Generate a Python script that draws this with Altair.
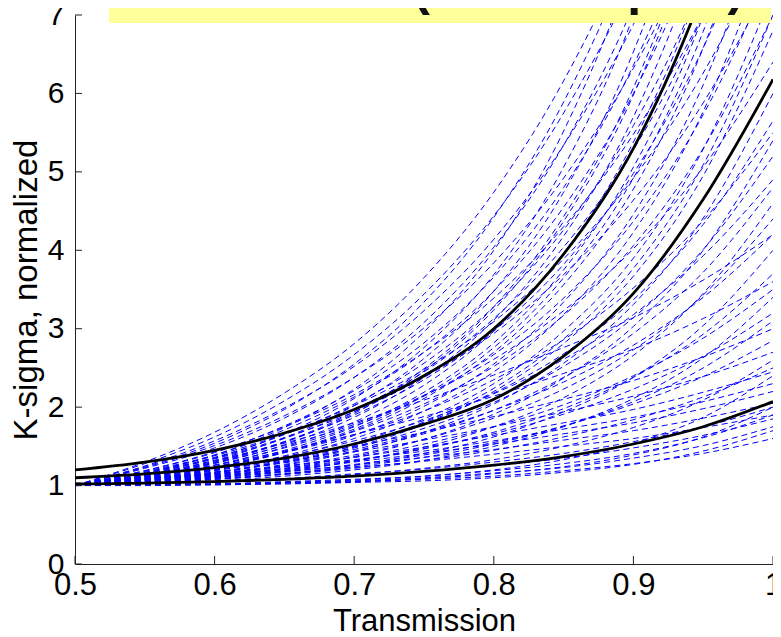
import altair as alt
import pandas as pd

# Transmission grid (x)
x_vals = [0.50, 0.55, 0.60, 0.65, 0.70, 0.75, 0.80, 0.85, 0.90, 0.95, 1.00]

# Individual samples (blue dashed), K-sigma normalized
blue_curves = [
    [1.00, 1.01, 1.02, 1.03, 1.05, 1.08, 1.12, 1.19, 1.28, 1.41, 1.60],
    [1.00, 1.01, 1.02, 1.04, 1.06, 1.10, 1.16, 1.23, 1.35, 1.51, 1.75],
    [1.01, 1.01, 1.02, 1.05, 1.08, 1.12, 1.19, 1.28, 1.41, 1.61, 1.90],
    [1.00, 1.02, 1.05, 1.08, 1.12, 1.18, 1.25, 1.35, 1.48, 1.64, 1.85],
    [1.00, 1.02, 1.05, 1.09, 1.15, 1.21, 1.30, 1.41, 1.56, 1.75, 2.00],
    [1.02, 1.04, 1.09, 1.15, 1.23, 1.31, 1.40, 1.50, 1.60, 1.74, 1.90],
    [1.00, 1.04, 1.11, 1.18, 1.26, 1.36, 1.46, 1.58, 1.70, 1.86, 2.05],
    [1.00, 1.05, 1.12, 1.20, 1.30, 1.41, 1.53, 1.66, 1.80, 1.98, 2.20],
    [1.03, 1.05, 1.13, 1.22, 1.33, 1.44, 1.57, 1.72, 1.87, 2.07, 2.30],
    [1.00, 1.06, 1.15, 1.25, 1.36, 1.49, 1.64, 1.80, 1.97, 2.19, 2.45],
    [1.00, 1.04, 1.08, 1.14, 1.22, 1.32, 1.45, 1.62, 1.84, 2.13, 2.50],
    [1.00, 1.07, 1.17, 1.29, 1.43, 1.58, 1.75, 1.94, 2.14, 2.39, 2.70],
    [1.02, 1.04, 1.10, 1.17, 1.27, 1.39, 1.55, 1.76, 2.04, 2.39, 2.85],
    [1.00, 1.08, 1.20, 1.34, 1.50, 1.68, 1.88, 2.10, 2.34, 2.64, 3.00],
    [1.00, 1.05, 1.12, 1.21, 1.32, 1.47, 1.66, 1.91, 2.23, 2.65, 3.20],
    [1.00, 1.06, 1.14, 1.24, 1.36, 1.53, 1.75, 2.03, 2.40, 2.88, 3.50],
    [1.01, 1.05, 1.11, 1.19, 1.31, 1.47, 1.68, 1.98, 2.38, 2.93, 3.70],
    [1.00, 1.08, 1.17, 1.30, 1.46, 1.68, 1.96, 2.32, 2.79, 3.40, 4.20],
    [1.00, 1.06, 1.14, 1.24, 1.39, 1.59, 1.86, 2.23, 2.73, 3.43, 4.40],
    [1.00, 1.04, 1.10, 1.18, 1.31, 1.49, 1.75, 2.12, 2.66, 3.45, 4.60],
    [1.00, 1.09, 1.21, 1.37, 1.57, 1.83, 2.17, 2.61, 3.18, 3.93, 4.90],
    [1.00, 1.08, 1.17, 1.30, 1.48, 1.73, 2.06, 2.52, 3.14, 4.01, 5.20],
    [1.02, 1.05, 1.12, 1.22, 1.37, 1.59, 1.91, 2.37, 3.03, 4.00, 5.40],
    [1.00, 1.08, 1.19, 1.33, 1.53, 1.80, 2.18, 2.68, 3.37, 4.33, 5.65],
    [1.00, 1.06, 1.14, 1.26, 1.43, 1.68, 2.04, 2.56, 3.31, 4.41, 6.00],
    [1.00, 1.13, 1.29, 1.51, 1.78, 2.15, 2.61, 3.23, 4.02, 5.06, 6.40],
    [1.00, 1.06, 1.16, 1.30, 1.49, 1.78, 2.20, 2.81, 3.67, 4.95, 6.80],
    [1.01, 1.07, 1.17, 1.32, 1.54, 1.85, 2.30, 2.97, 3.90, 5.29, 7.30],
    [1.00, 1.12, 1.26, 1.48, 1.76, 2.14, 2.67, 3.39, 4.37, 5.73, 7.60],
    [1.00, 1.08, 1.19, 1.36, 1.60, 1.95, 2.45, 3.18, 4.23, 5.77, 8.00],
    [1.00, 1.08, 1.20, 1.38, 1.64, 2.01, 2.55, 3.34, 4.46, 6.11, 8.50],
    [1.00, 1.14, 1.31, 1.56, 1.90, 2.35, 2.97, 3.82, 4.98, 6.58, 8.80],
    [1.00, 1.09, 1.22, 1.42, 1.70, 2.11, 2.70, 3.56, 4.78, 6.58, 9.20],
    [1.00, 1.10, 1.24, 1.45, 1.75, 2.19, 2.82, 3.75, 5.06, 6.99, 9.80],
    [1.00, 1.16, 1.36, 1.65, 2.04, 2.56, 3.28, 4.26, 5.59, 7.44, 10.00],
    [1.00, 1.10, 1.26, 1.49, 1.81, 2.28, 2.97, 3.96, 5.38, 7.47, 10.50],
    [1.00, 1.11, 1.28, 1.52, 1.87, 2.38, 3.11, 4.18, 5.70, 7.95, 11.20],
    [1.00, 1.19, 1.42, 1.76, 2.21, 2.82, 3.66, 4.80, 6.36, 8.52, 11.50],
    [1.00, 1.12, 1.30, 1.56, 1.94, 2.49, 3.28, 4.43, 6.07, 8.49, 12.00],
    [1.00, 1.13, 1.32, 1.61, 2.02, 2.62, 3.48, 4.74, 6.53, 9.17, 13.00],
    [1.00, 1.19, 1.43, 1.75, 2.16, 2.70, 3.39, 4.30, 5.48, 7.01, 9.00],
    [1.00, 1.23, 1.51, 1.89, 2.38, 3.01, 3.84, 4.92, 6.32, 8.13, 10.50],
    [1.00, 1.25, 1.57, 1.99, 2.52, 3.23, 4.14, 5.34, 6.88, 8.89, 11.50],
    [1.00, 1.28, 1.62, 2.08, 2.67, 3.44, 4.44, 5.75, 7.44, 9.64, 12.50],
    [1.00, 1.30, 1.68, 2.18, 2.81, 3.65, 4.74, 6.16, 8.00, 10.39, 13.50],
    [1.00, 1.14, 1.35, 1.66, 2.11, 2.76, 3.69, 5.06, 6.99, 9.85, 14.00],
    [1.00, 1.16, 1.39, 1.74, 2.23, 2.96, 4.00, 5.52, 7.69, 10.87, 15.50],
    [1.00, 1.22, 1.48, 1.86, 2.38, 3.08, 4.04, 5.34, 7.12, 9.59, 13.00],
    [1.00, 1.24, 1.54, 1.97, 2.55, 3.34, 4.42, 5.89, 7.89, 10.67, 14.50],
    [1.00, 1.02, 1.04, 1.08, 1.14, 1.22, 1.33, 1.50, 1.74, 2.09, 2.60],
    [1.00, 1.04, 1.08, 1.15, 1.24, 1.36, 1.53, 1.76, 2.07, 2.50, 3.10],
    [1.00, 1.03, 1.06, 1.12, 1.20, 1.32, 1.50, 1.75, 2.11, 2.63, 3.40],
    [1.00, 1.10, 1.26, 1.44, 1.65, 1.88, 2.14, 2.43, 2.74, 3.13, 3.60],
    [1.00, 1.03, 1.08, 1.15, 1.26, 1.41, 1.62, 1.94, 2.38, 3.04, 4.00],
    [1.00, 1.07, 1.15, 1.27, 1.44, 1.66, 1.96, 2.38, 2.94, 3.72, 4.80],
    [1.00, 1.11, 1.24, 1.42, 1.65, 1.95, 2.35, 2.86, 3.52, 4.38, 5.50],
    [1.00, 1.13, 1.32, 1.54, 1.80, 2.09, 2.41, 2.76, 3.14, 3.62, 4.20],
    [1.00, 1.07, 1.16, 1.31, 1.51, 1.81, 2.24, 2.87, 3.77, 5.09, 7.00],
    [1.00, 1.11, 1.24, 1.43, 1.69, 2.04, 2.52, 3.17, 4.06, 5.30, 7.00],
    [1.00, 1.16, 1.35, 1.61, 1.94, 2.38, 2.94, 3.69, 4.64, 5.88, 7.50],
    [1.00, 1.09, 1.23, 1.43, 1.72, 2.15, 2.76, 3.65, 4.92, 6.79, 9.50],
    [1.00, 1.15, 1.34, 1.60, 1.97, 2.45, 3.13, 4.04, 5.28, 7.01, 9.40],
    [1.00, 1.17, 1.38, 1.66, 2.02, 2.48, 3.09, 3.89, 4.92, 6.26, 8.00],
    [1.00, 1.12, 1.29, 1.55, 1.92, 2.46, 3.24, 4.37, 5.98, 8.36, 11.80],
    [1.00, 1.18, 1.39, 1.71, 2.13, 2.70, 3.48, 4.55, 6.00, 8.02, 10.80],
    [1.00, 1.00, 1.01, 1.02, 1.04, 1.06, 1.10, 1.17, 1.27, 1.44, 1.70],
    [1.00, 1.01, 1.01, 1.03, 1.05, 1.09, 1.15, 1.24, 1.39, 1.62, 2.00],
    [1.00, 1.01, 1.02, 1.04, 1.07, 1.12, 1.20, 1.33, 1.54, 1.87, 2.40],
]

# Summary curves (black solid)
upper_curve = [1.20, 1.30, 1.45, 1.67, 1.97, 2.40, 3.00, 3.95, 5.30, 7.30, 10.00]
middle_curve = [1.10, 1.15, 1.23, 1.35, 1.53, 1.78, 2.10, 2.65, 3.45, 4.65, 6.18]
lower_curve = [1.02, 1.03, 1.05, 1.08, 1.12, 1.18, 1.26, 1.37, 1.53, 1.75, 2.07]

x_ticks = [0.5, 0.6, 0.7, 0.8, 0.9, 1.0]
y_ticks = [0, 1, 2, 3, 4, 5, 6, 7]
title_text = "Native LAO (104 samples)"
x_title = "Transmission"
y_title = "K-sigma, normalized"

W, H = 698, 549
FONT = "Liberation Sans"

blue_rows = []
for i, ys in enumerate(blue_curves):
    for x, y in zip(x_vals, ys):
        blue_rows.append({"x": x, "y": y, "id": i})
blue_df = pd.DataFrame(blue_rows)

black_rows = []
for name, ys in (("upper", upper_curve), ("middle", middle_curve), ("lower", lower_curve)):
    for x, y in zip(x_vals, ys):
        black_rows.append({"x": x, "y": y, "id": name})
black_df = pd.DataFrame(black_rows)

xs = alt.Scale(domain=[0.5, 1.0], nice=False, zero=False)
ys_ = alt.Scale(domain=[0, 7], nice=False)

x_axis = alt.Axis(values=x_ticks, format="~g", grid=False, ticks=False,
                  labelFontSize=31, labelFont=FONT, labelColor="black",
                  labelPadding=6, domainColor="#222222", domainWidth=1,
                  title=x_title, titleFontSize=31, titleFont=FONT,
                  titleFontWeight="normal", titleColor="black", titlePadding=6,
                  labelFlush=False, labelOverlap=False)
y_axis = alt.Axis(values=y_ticks, format="d", grid=False, ticks=False,
                  labelFontSize=30, labelFont=FONT, labelColor="black",
                  labelPadding=11, domainColor="#222222", domainWidth=1,
                  title=y_title, titleFontSize=33, titleFont=FONT,
                  titleFontWeight="normal", titleColor="black", titlePadding=4,
                  labelFlush=False, labelOverlap=False)

blue = alt.Chart(blue_df).mark_line(
    color="#0000ff", strokeWidth=1.0, strokeDash=[6, 4], clip=True,
    interpolate="monotone"
).encode(
    x=alt.X("x:Q", scale=xs, axis=x_axis),
    y=alt.Y("y:Q", scale=ys_, axis=y_axis),
    detail="id:N",
)

black = alt.Chart(black_df).mark_line(
    color="black", strokeWidth=2.8, clip=True, interpolate="monotone"
).encode(
    x=alt.X("x:Q", scale=xs),
    y=alt.Y("y:Q", scale=ys_),
    detail="id:N",
)

xt_df = pd.DataFrame({"t": x_ticks})
yt_df = pd.DataFrame({"t": y_ticks})
xticks = alt.Chart(xt_df).mark_rule(color="#222222", strokeWidth=1).encode(
    x=alt.X("t:Q", scale=xs), y=alt.value(H), y2=alt.value(H - 8))
yticks = alt.Chart(yt_df).mark_rule(color="#222222", strokeWidth=1).encode(
    y=alt.Y("t:Q", scale=ys_), x=alt.value(0), x2=alt.value(7))

one = pd.DataFrame({"a": [0]})
title_box = alt.Chart(one).mark_rect(color="#ffff99").encode(
    x=alt.value(34), x2=alt.value(696), y=alt.value(-9), y2=alt.value(8))
title_txt = alt.Chart(one).mark_text(
    text=title_text, font=FONT, fontSize=50, fontWeight="bold", color="#111111",
    align="center", baseline="alphabetic"
).encode(x=alt.value(362), y=alt.value(-10))

chart = alt.layer(blue, black, xticks, yticks, title_box, title_txt).properties(
    width=W, height=H,
    padding={"left": 67, "top": 7, "right": 0, "bottom": 72},
    autosize=alt.AutoSizeParams(type="none"),
).configure_view(stroke=None)

chart.save("out.html", embed_options={"renderer": "svg", "actions": False})
